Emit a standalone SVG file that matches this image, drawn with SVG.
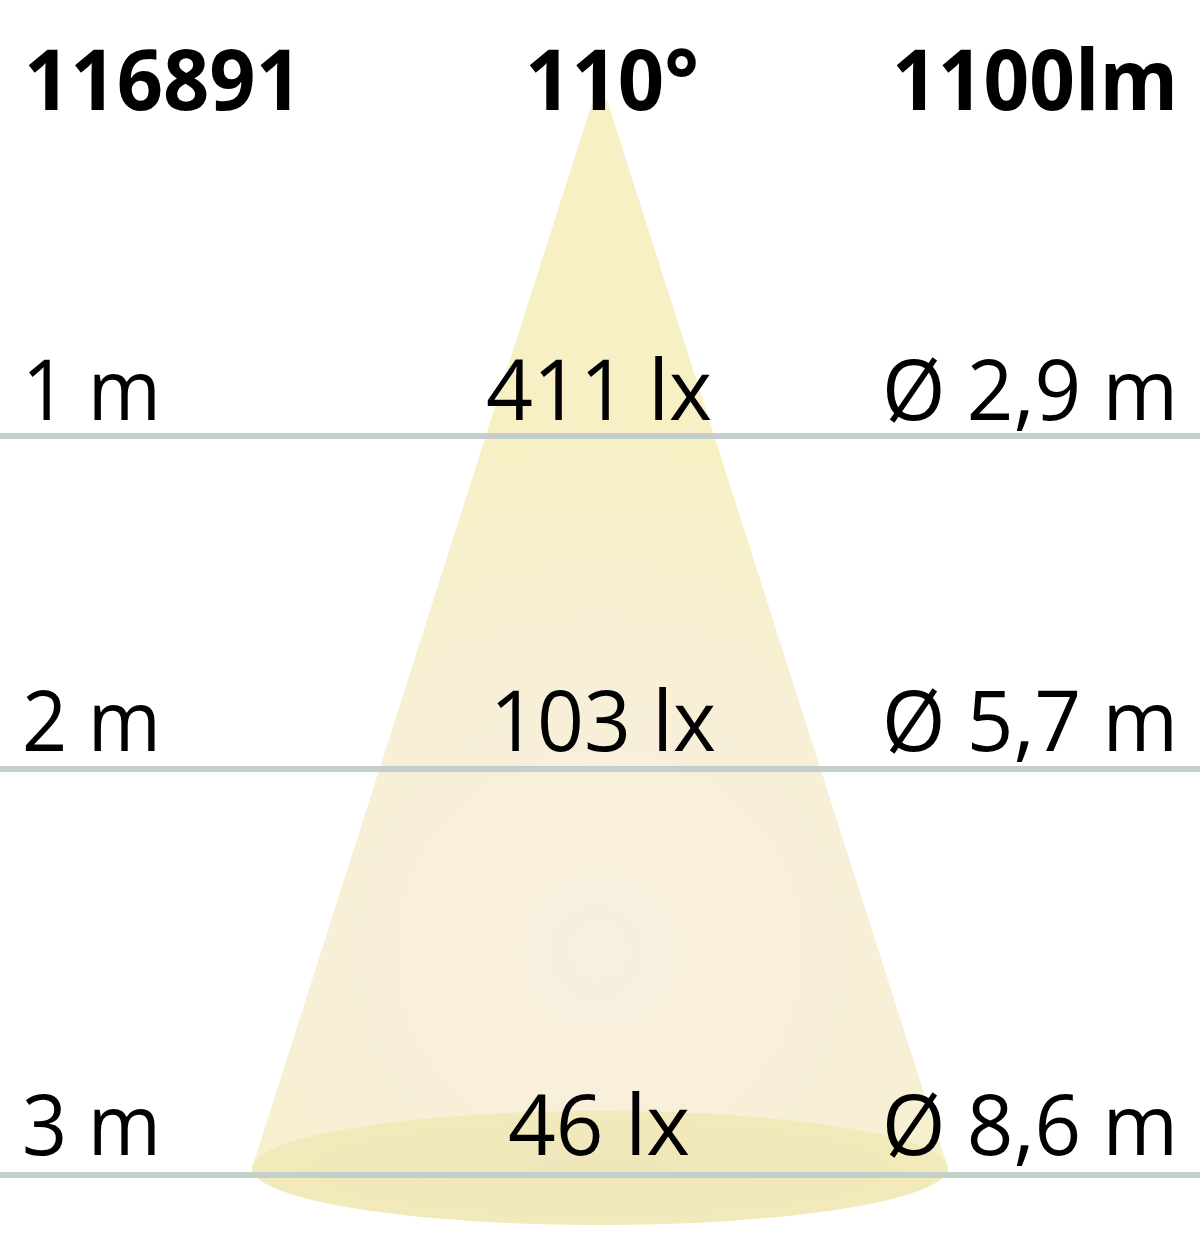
<svg xmlns="http://www.w3.org/2000/svg" width="1200" height="1250" viewBox="0 0 1200 1250">
<defs>
<radialGradient id="coneGrad" cx="600" cy="950" r="520" gradientUnits="userSpaceOnUse">
<stop offset="0" stop-color="#f7efdf"/>
<stop offset="0.6" stop-color="#f7f0d6"/>
<stop offset="1" stop-color="#f7f0c4"/>
</radialGradient>
<radialGradient id="baseGrad" cx="600" cy="1168" r="347" gradientUnits="userSpaceOnUse" gradientTransform="translate(600 1168) scale(1 0.165) translate(-600 -1168)">
<stop offset="0" stop-color="#eee5bb"/>
<stop offset="1" stop-color="#f3eabb"/>
</radialGradient>
<style>
.t{font-family:"Open Sans","Liberation Sans",sans-serif;font-size:84px;fill:#000;}
.b{font-weight:bold;}
.rule{stroke:#c4cecb;stroke-width:6;fill:none;}
</style>
</defs>
<rect width="1200" height="1250" fill="#ffffff"/>
<g id="cone">
<polygon points="593,100 607,100 948,1168 252,1168" fill="url(#coneGrad)"/>
<ellipse cx="600" cy="1168" rx="348" ry="57" fill="url(#baseGrad)"/>
</g>
<g id="connectors">
<line class="rule" x1="0" y1="436" x2="1200" y2="436"/>
<line class="rule" x1="0" y1="769" x2="1200" y2="769"/>
<line class="rule" x1="0" y1="1175" x2="1200" y2="1175"/>
</g>
<g id="header">
<text class="t b" x="24" y="110" textLength="278" lengthAdjust="spacingAndGlyphs">116891</text>
<text class="t b" x="525" y="110" textLength="174" lengthAdjust="spacingAndGlyphs">110°</text>
<text class="t b" x="892" y="110" textLength="286" lengthAdjust="spacingAndGlyphs">1100lm</text>
</g>
<g id="row1">
<text class="t" x="22" y="420" textLength="139" lengthAdjust="spacingAndGlyphs">1 m</text>
<text class="t" x="486" y="420" textLength="226" lengthAdjust="spacingAndGlyphs">411 lx</text>
<text class="t" x="882" y="420" textLength="296" lengthAdjust="spacingAndGlyphs">Ø 2,9 m</text>
</g>
<g id="row2">
<text class="t" x="22" y="751" textLength="139" lengthAdjust="spacingAndGlyphs">2 m</text>
<text class="t" x="490" y="751" textLength="226" lengthAdjust="spacingAndGlyphs">103 lx</text>
<text class="t" x="882" y="751" textLength="296" lengthAdjust="spacingAndGlyphs">Ø 5,7 m</text>
</g>
<g id="row3">
<text class="t" x="22" y="1155" textLength="139" lengthAdjust="spacingAndGlyphs">3 m</text>
<text class="t" x="508" y="1155" textLength="182" lengthAdjust="spacingAndGlyphs">46 lx</text>
<text class="t" x="882" y="1155" textLength="296" lengthAdjust="spacingAndGlyphs">Ø 8,6 m</text>
</g>
</svg>
